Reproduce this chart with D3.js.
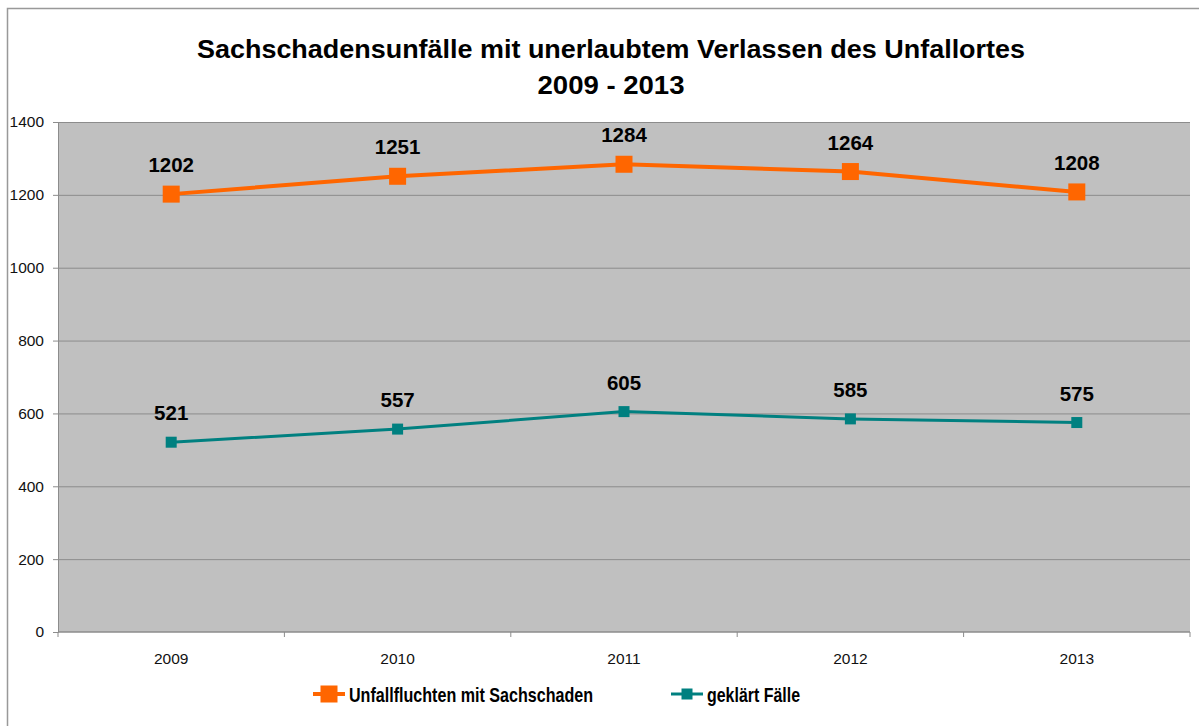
<!doctype html>
<html lang="de">
<head>
<meta charset="utf-8">
<title>Sachschadensunfälle</title>
<style>
  html, body { margin: 0; padding: 0; background: #fff; overflow: hidden; }
  svg { display: block; font-family: "Liberation Sans", Arial, Helvetica, sans-serif; }
</style>
</head>
<body>
<svg id="chart" width="1199" height="726"></svg>
<script src="https://cdn.jsdelivr.net/npm/d3@7"></script>
<script>
const years = ["2009", "2010", "2011", "2012", "2013"];
const unfallfluchten = [1202, 1251, 1284, 1264, 1208];
const geklaert = [521, 557, 605, 585, 575];
const yTicks = [0, 200, 400, 600, 800, 1000, 1200, 1400];
const titleLines = ["Sachschadensunfälle mit unerlaubtem Verlassen des Unfallortes", "2009 - 2013"];

const series = [
  { name: "Unfallfluchten mit Sachschaden", values: unfallfluchten, color: "#ff6600", width: 4, marker: 17, legendLen: 244 },
  { name: "geklärt Fälle", values: geklaert, color: "#008080", width: 3, marker: 11, legendLen: 93 }
];

const svg = d3.select("#chart");
const plotLeft = 58, plotRight = 1190, plotTop = 122, plotBottom = 632;

// outer frame
svg.append("path")
  .attr("d", "M7.5,726 V8.5 H1199")
  .attr("fill", "none").attr("stroke", "#999").attr("stroke-width", 1.5);

// title (stretched a little to match the original's wider rendering)
const titleLen = [828, 147];
svg.append("g").selectAll("text").data(titleLines).join("text")
  .attr("x", 611).attr("y", (d, i) => 58 + i * 36)
  .attr("text-anchor", "middle")
  .attr("font-size", 26).attr("font-weight", "bold")
  .attr("textLength", (d, i) => titleLen[i])
  .attr("lengthAdjust", "spacingAndGlyphs")
  .text(d => d);

const x = d3.scaleBand().domain(years).range([plotLeft, plotRight]);
const y = d3.scaleLinear().domain([0, 1400]).range([plotBottom, plotTop]);

// plot area
svg.append("rect")
  .attr("x", plotLeft).attr("y", plotTop)
  .attr("width", plotRight - plotLeft).attr("height", plotBottom - plotTop)
  .attr("fill", "#c0c0c0");

svg.append("g").selectAll("line").data(yTicks.slice(1)).join("line")
  .attr("x1", plotLeft).attr("x2", plotRight)
  .attr("y1", d => y(d) + 0.5).attr("y2", d => y(d) + 0.5)
  .attr("stroke", "#8c8c8c").attr("stroke-width", 1);

// y axis
const yAxis = svg.append("g")
  .attr("transform", `translate(${plotLeft},0)`)
  .call(d3.axisLeft(y).tickValues(yTicks).tickFormat(d3.format("d")).tickSize(5).tickPadding(9));
yAxis.attr("font-size", null).attr("font-family", null);
yAxis.select(".domain").attr("stroke", "#8c8c8c");
yAxis.selectAll(".tick line").attr("stroke", "#8c8c8c");
yAxis.selectAll("text").attr("font-size", 15.5).attr("fill", "#111");

// x axis (ticks on category boundaries)
const xAxis = svg.append("g").attr("transform", `translate(0,${plotBottom})`);
xAxis.append("line").attr("x1", plotLeft).attr("x2", plotRight)
  .attr("stroke", "#8c8c8c").attr("stroke-width", 1.5);
const bounds = years.map(d => x(d)).concat([x(years[years.length - 1]) + x.bandwidth()]);
xAxis.selectAll(".bt").data(bounds).join("line")
  .attr("class", "bt")
  .attr("x1", d => d).attr("x2", d => d)
  .attr("y1", 0).attr("y2", 5)
  .attr("stroke", "#8c8c8c");
xAxis.selectAll("text").data(years).join("text")
  .attr("x", d => x(d) + x.bandwidth() / 2)
  .attr("y", 32)
  .attr("text-anchor", "middle")
  .attr("font-size", 15.5).attr("fill", "#111")
  .text(d => d);

const cx = d => x(d) + x.bandwidth() / 2;

const line = d3.line().x((d, i) => cx(years[i])).y(d => y(d));

series.forEach(s => {
  const g = svg.append("g");
  g.append("path")
    .datum(s.values)
    .attr("d", line)
    .attr("fill", "none")
    .attr("stroke", s.color)
    .attr("stroke-width", s.width);
  g.selectAll("rect").data(s.values).join("rect")
    .attr("x", (d, i) => cx(years[i]) - s.marker / 2)
    .attr("y", d => y(d) - s.marker / 2)
    .attr("width", s.marker).attr("height", s.marker)
    .attr("fill", s.color);
  g.selectAll("text").data(s.values).join("text")
    .attr("x", (d, i) => cx(years[i]))
    .attr("y", d => y(d) - 22)
    .attr("text-anchor", "middle")
    .attr("font-size", 20.5).attr("font-weight", "bold")
    .text(d => d);
});

// legend
const legendX = [313, 671];
const legend = svg.append("g").selectAll("g").data(series).join("g")
  .attr("transform", (d, i) => `translate(${legendX[i]},694)`);
legend.append("line")
  .attr("x1", 0).attr("x2", 32)
  .attr("stroke", d => d.color).attr("stroke-width", d => d.width);
legend.append("rect")
  .attr("x", d => 16 - d.marker / 2)
  .attr("y", d => -d.marker / 2)
  .attr("width", d => d.marker).attr("height", d => d.marker)
  .attr("fill", d => d.color);
legend.append("text")
  .attr("x", 36)
  .attr("y", 8)
  .attr("font-size", 21).attr("font-weight", "bold")
  .attr("textLength", d => d.legendLen)
  .attr("lengthAdjust", "spacingAndGlyphs")
  .text(d => d.name);
</script>
</body>
</html>
